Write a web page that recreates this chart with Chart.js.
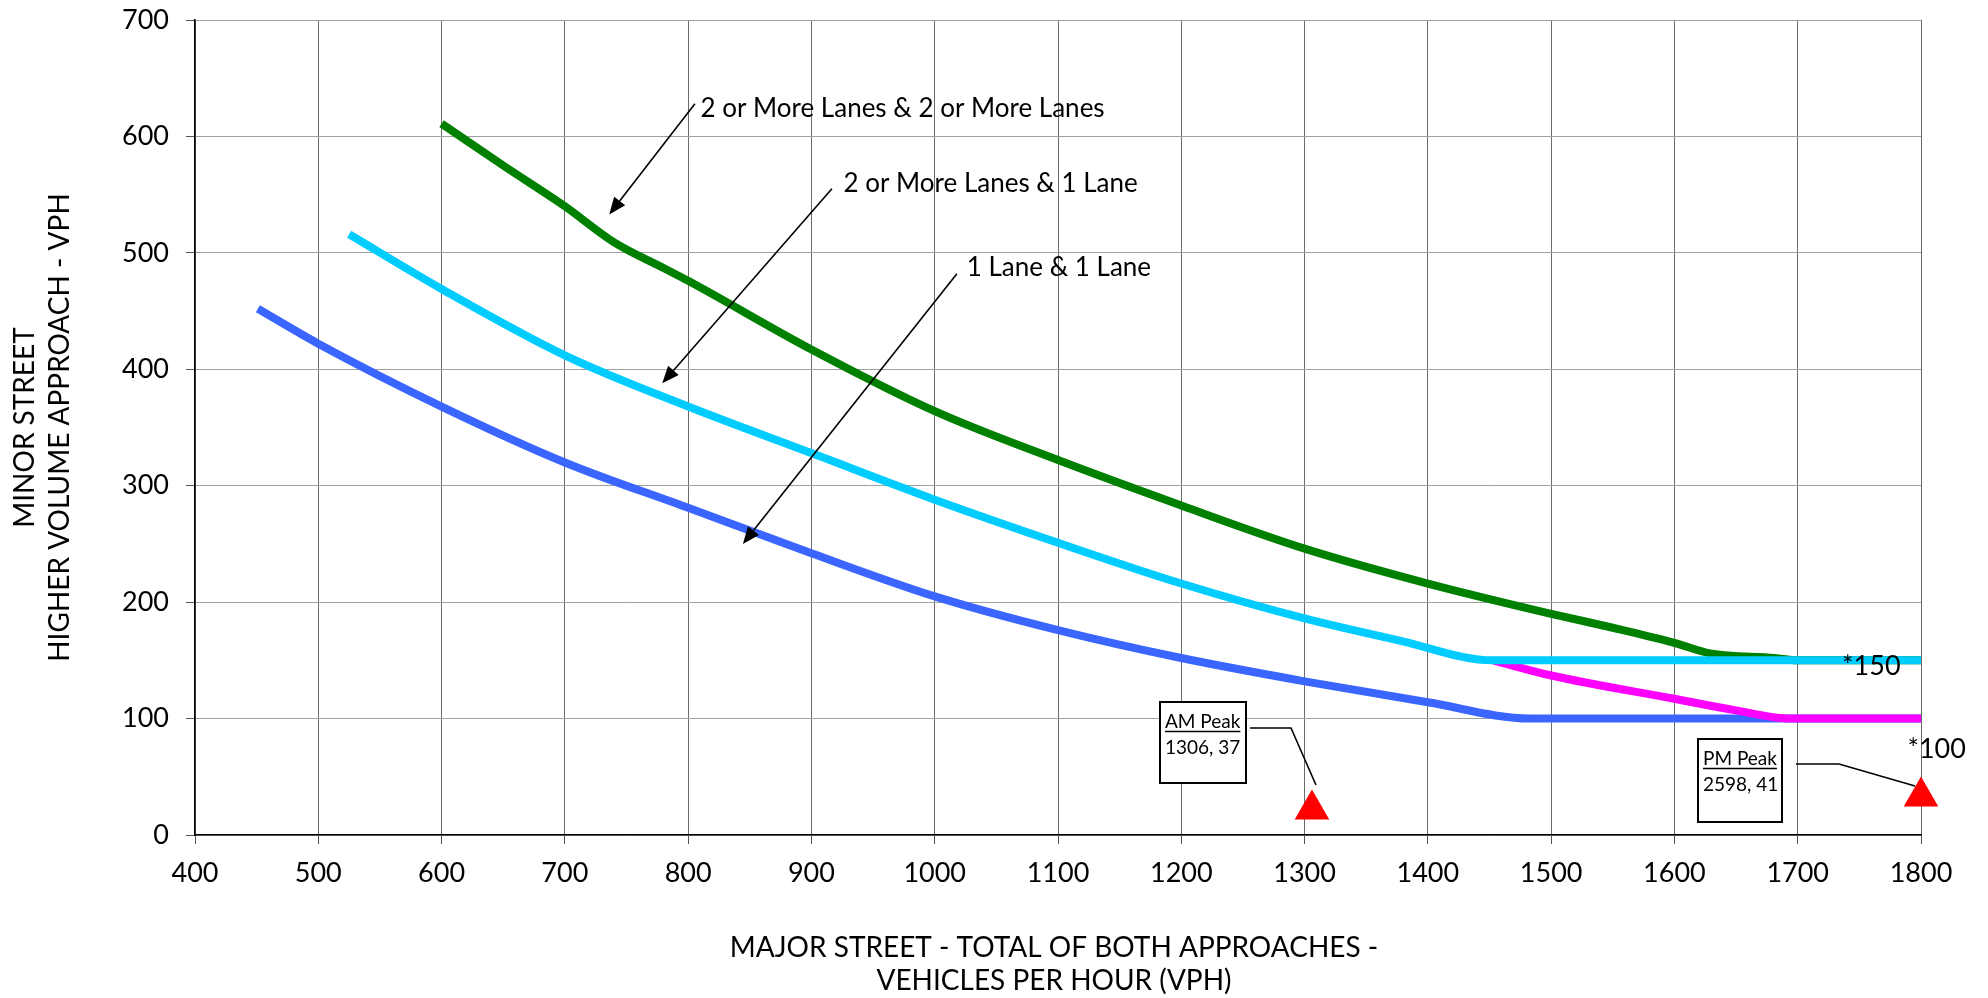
<!DOCTYPE html>
<html><head><meta charset="utf-8">
<script src="https://cdn.jsdelivr.net/npm/chart.js@4.4.1/dist/chart.umd.min.js"></script>
<style>html,body{margin:0;padding:0;background:#fff;overflow:hidden}#wrap{width:1988px;height:998px;position:relative}</style>
</head><body><div id="wrap"><canvas id="c" width="1988" height="998"></canvas></div>
<script>
// ---- data ----
const xTickValues = [400,500,600,700,800,900,1000,1100,1200,1300,1400,1500,1600,1700,1800];
const yTickValues = [0,100,200,300,400,500,600,700];

const twoTwoX = [600,650,700,740,780,800,900,1000,1100,1200,1300,1400,1500,1550,1600,1629,1681,1700,1800];
const twoTwoY = [611,575,540,509,487,476,417,364,322,283,246,216,190,178,165,156,152,150,150];

const twoOneX = [525,600,700,800,900,1000,1100,1200,1300,1377,1453,1800];
const twoOneY = [516,469,412,368,328,288,251,216,186,167,150,150];

const twoOneLowX = [1453,1500,1600,1650,1695,1800];
const twoOneLowY = [150,137,117,107,100,100];

const oneOneX = [451,500,600,700,800,900,1000,1100,1200,1300,1400,1483,1800];
const oneOneY = [452,422,368,320,281,242,205,176,152,132,114,100,100];

const peakNames = ['AM Peak','PM Peak'];
const peakLabels = ['1306, 37','2598, 41'];
const peakX = [1306,1800];
const peakY = [22,33];

const curveLabels = ['2 or More Lanes & 2 or More Lanes','2 or More Lanes & 1 Lane','1 Lane & 1 Lane'];
const minLabels = ['*150','*100'];

const FONT = 'Lato, "Open Sans", sans-serif';
const pts = (xs, ys) => xs.map((x, i) => ({x, y: ys[i]}));

function lineDs(label, xs, ys, color) {
  return {label, data: pts(xs, ys), borderColor: color, backgroundColor: color,
    borderWidth: 8, pointRadius: 0, cubicInterpolationMode: 'monotone', fill: false, clip: false};
}

const annot = {
  id: 'annot',
  afterDraw(chart) {
    const ctx = chart.ctx, xs = chart.scales.x, ys = chart.scales.y;
    const X = v => xs.getPixelForValue(v), Y = v => ys.getPixelForValue(v);
    ctx.save();
    ctx.fillStyle = '#000'; ctx.strokeStyle = '#000';
    // axis titles
    ctx.font = '28px ' + FONT;
    ctx.textAlign = 'center'; ctx.textBaseline = 'middle';
    const cx = (chart.chartArea.left + chart.chartArea.right) / 2;
    ctx.fillText('MAJOR STREET - TOTAL OF BOTH APPROACHES -', cx - 4, 948);
    ctx.fillText('VEHICLES PER HOUR (VPH)', cx - 4, 981);
    const cy = (chart.chartArea.top + chart.chartArea.bottom) / 2;
    ctx.save(); ctx.translate(25, cy); ctx.rotate(-Math.PI / 2);
    ctx.fillText('MINOR STREET', 0, 0); ctx.restore();
    ctx.save(); ctx.translate(60, cy); ctx.rotate(-Math.PI / 2);
    ctx.fillText('HIGHER VOLUME APPROACH - VPH', 0, 0); ctx.restore();

    // curve labels with arrows (data coordinates)
    const labs = [
      {t: curveLabels[0], lx: 810, ly: 624, sx: 805.5, sy: 628, tx: 736, ty: 533},
      {t: curveLabels[1], lx: 926, ly: 559.5, sx: 916.6, sy: 555, tx: 779, ty: 388},
      {t: curveLabels[2], lx: 1026, ly: 487, sx: 1018, sy: 482, tx: 844.4, ty: 250}
    ];
    ctx.textAlign = 'left'; ctx.textBaseline = 'middle';
    ctx.font = '26px ' + FONT;
    labs.forEach(l => {
      ctx.fillText(l.t, X(l.lx), Y(l.ly));
      const x1 = X(l.sx), y1 = Y(l.sy), x2 = X(l.tx), y2 = Y(l.ty);
      const a = Math.atan2(y2 - y1, x2 - x1), L = 17, W = 7;
      const bx = x2 - L * Math.cos(a), by = y2 - L * Math.sin(a);
      ctx.lineWidth = 1.6;
      ctx.beginPath(); ctx.moveTo(x1, y1); ctx.lineTo(bx, by); ctx.stroke();
      ctx.beginPath(); ctx.moveTo(x2, y2);
      ctx.lineTo(bx + W * Math.sin(a), by - W * Math.cos(a));
      ctx.lineTo(bx - W * Math.sin(a), by + W * Math.cos(a));
      ctx.closePath(); ctx.fill();
    });

    // minimum labels
    ctx.font = '27px ' + FONT; ctx.textBaseline = 'alphabetic';
    ctx.fillText(minLabels[0], X(1736), Y(137));
    ctx.fillText(minLabels[1], X(1789), Y(66));

    // peak boxes with leaders
    const boxes = [
      {l: 1160, t: 702, r: 1246, b: 783, lead: [[1250,728],[1291,728],[1316,785]]},
      {l: 1698, t: 739, r: 1782, b: 822, lead: [[1796,764],[1839,764],[1915,786]]}
    ];
    boxes.forEach((bx, i) => {
      ctx.fillStyle = '#fff';
      ctx.fillRect(bx.l, bx.t, bx.r - bx.l, bx.b - bx.t);
      ctx.lineWidth = 2; ctx.strokeStyle = '#000';
      ctx.strokeRect(bx.l, bx.t, bx.r - bx.l, bx.b - bx.t);
      ctx.fillStyle = '#000';
      ctx.font = '19px ' + FONT; ctx.textAlign = 'left';
      const tx = bx.l + 5;
      ctx.fillText(peakNames[i], tx, bx.t + 26);
      const w = ctx.measureText(peakNames[i]).width;
      ctx.lineWidth = 1.3;
      ctx.beginPath(); ctx.moveTo(tx, bx.t + 29.5); ctx.lineTo(tx + w, bx.t + 29.5); ctx.stroke();
      ctx.fillText(peakLabels[i], tx, bx.t + 52);
      ctx.lineWidth = 1.6;
      ctx.beginPath();
      bx.lead.forEach((p, k) => k ? ctx.lineTo(p[0], p[1]) : ctx.moveTo(p[0], p[1]));
      ctx.stroke();
    });
    ctx.restore();
  }
};

new Chart(document.getElementById('c'), {
  type: 'line',
  data: {
    datasets: [
      {label: 'Peaks', data: pts(peakX, peakY), showLine: false, pointStyle: 'triangle',
       pointRadius: 20, pointBackgroundColor: '#ff0000', pointBorderColor: '#ff0000', pointBorderWidth: 0, clip: false},
      lineDs('2 or More Lanes & 1 Lane', twoOneX, twoOneY, '#00ccff'),
      lineDs('2 or More Lanes & 1 Lane (below *150)', twoOneLowX, twoOneLowY, '#ff00ff'),
      lineDs('1 Lane & 1 Lane', oneOneX, oneOneY, '#3a66ff'),
      lineDs('2 or More Lanes & 2 or More Lanes', twoTwoX, twoTwoY, '#008000')
    ]
  },
  options: {
    responsive: false, animation: false, devicePixelRatio: 1,
    layout: {padding: {top: 19, right: 67, left: 0, bottom: 0}},
    plugins: {legend: {display: false}, tooltip: {enabled: false}},
    scales: {
      x: {
        type: 'linear', min: 400, max: 1800,
        afterFit(s) { s.height = 163; s.paddingLeft = 0; s.paddingRight = 0; },
        afterBuildTicks(s) { s.ticks = xTickValues.map(v => ({value: v})); },
        ticks: {font: {family: FONT, size: 27}, color: '#000', padding: 13, maxRotation: 0,
                callback: v => String(v)},
        grid: {color: '#6a6a6a', lineWidth: 1, tickLength: 9, tickColor: '#555'},
        border: {color: '#000', width: 1.5}
      },
      y: {
        type: 'linear', min: 0, max: 700,
        afterFit(s) { s.width = 195; s.paddingTop = 0; s.paddingBottom = 0; },
        afterBuildTicks(s) { s.ticks = yTickValues.map(v => ({value: v})); },
        ticks: {font: {family: FONT, size: 27}, color: '#000', padding: 17, callback: v => String(v)},
        grid: {color: '#a0a0a0', lineWidth: 1, tickLength: 9, tickColor: '#555'},
        border: {color: '#000', width: 1.5}
      }
    }
  },
  plugins: [annot]
});
</script></body></html>
